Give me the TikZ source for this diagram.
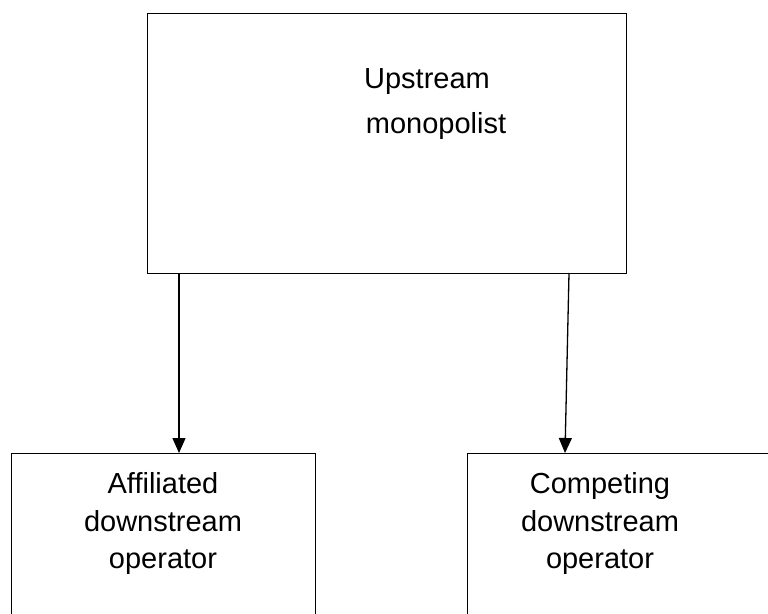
\documentclass[tikz,border=0pt]{standalone}
\usepackage{fontspec}
\setmainfont{Liberation Sans}
\usetikzlibrary{arrows.meta, positioning}

\begin{document}
\begin{tikzpicture}[x=1pt, y=-1pt,
  box/.style={draw, line width=1.4pt, anchor=north west, inner sep=0pt},
  lbl/.style={anchor=base, inner sep=0pt, font=\fontsize{29}{33}\selectfont},
  feed/.style={line width=1.3pt, -{Triangle[length=15pt, width=13pt]}}]
\useasboundingbox (0,0) rectangle (768,613);
\node[box, minimum width=479pt, minimum height=260pt] (mono) at (147,13) {};
\node[box, minimum width=304pt, minimum height=220pt] (affil) at (11,453) {};
\node[box, minimum width=320pt, minimum height=220pt] (compet) at (467,453) {};
\node[lbl] (up1) at (427,88) {Upstream};
\node[lbl] (up2) at (436,133) {monopolist};
\node[lbl] (af1) at (163,493) {Affiliated};
\node[lbl] (af2) at (163,531) {downstream};
\node[lbl] (af3) at (163,568) {operator};
\node[lbl] (co1) at (600,493) {Competing};
\node[lbl] (co2) at (600,531) {downstream};
\node[lbl] (co3) at (600,568) {operator};
% arrow ends
\coordinate (mA) at (179,273);
\coordinate (mB) at (569,273);
\coordinate (cB) at (565,453);
\draw[feed] (mA) -- (mA |- affil.north);
\draw[feed] (mB) -- (cB);
\end{tikzpicture}
\end{document}
